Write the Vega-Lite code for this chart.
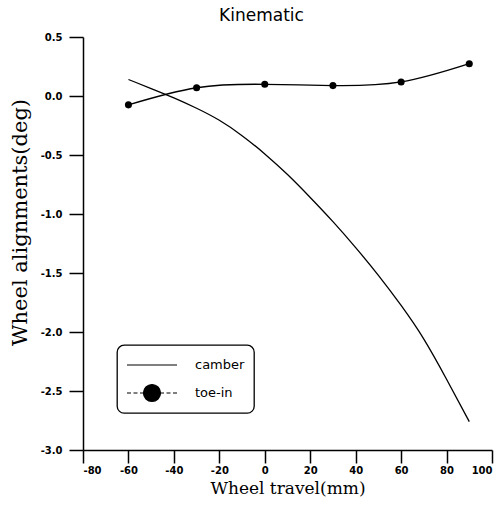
{
  "$schema": "https://vega.github.io/schema/vega-lite/v6.json",
  "width": 409,
  "height": 413,
  "autosize": "none",
  "padding": {"left": 83, "top": 37, "right": 9, "bottom": 62},
  "background": "white",
  "title": {
    "text": "Kinematic",
    "font": "DejaVu Sans",
    "fontSize": 17,
    "fontWeight": "normal",
    "color": "black",
    "frame": "group",
    "offset": 7,
    "dx": -26
  },
  "config": {
    "view": {"stroke": null},
    "axis": {
      "grid": false,
      "domainColor": "black",
      "domainWidth": 1.5,
      "tickColor": "black",
      "tickWidth": 1.5,
      "labelFont": "DejaVu Sans",
      "labelFontWeight": "bold",
      "labelFontSize": 10,
      "labelColor": "black",
      "titleFont": "DejaVu Serif",
      "titleFontWeight": "normal",
      "titleColor": "black"
    }
  },
  "data": {
    "values": [
      {"series": "camber", "x": -60, "y": 0.14},
      {"series": "camber", "x": -50, "y": 0.063},
      {"series": "camber", "x": -40, "y": -0.016},
      {"series": "camber", "x": -30, "y": -0.104},
      {"series": "camber", "x": -20, "y": -0.206},
      {"series": "camber", "x": -10, "y": -0.336},
      {"series": "camber", "x": 0, "y": -0.491},
      {"series": "camber", "x": 10, "y": -0.666},
      {"series": "camber", "x": 20, "y": -0.86},
      {"series": "camber", "x": 30, "y": -1.065},
      {"series": "camber", "x": 40, "y": -1.285},
      {"series": "camber", "x": 50, "y": -1.52},
      {"series": "camber", "x": 60, "y": -1.775},
      {"series": "camber", "x": 70, "y": -2.06},
      {"series": "camber", "x": 80, "y": -2.40},
      {"series": "camber", "x": 90, "y": -2.76},
      {"series": "toe-in", "x": -60, "y": -0.075},
      {"series": "toe-in", "x": -30, "y": 0.07},
      {"series": "toe-in", "x": 0, "y": 0.099},
      {"series": "toe-in", "x": 30, "y": 0.088},
      {"series": "toe-in", "x": 60, "y": 0.119},
      {"series": "toe-in", "x": 90, "y": 0.274}
    ]
  },
  "encoding": {
    "x": {
      "field": "x",
      "type": "quantitative",
      "scale": {"domain": [-80, 100], "nice": false, "zero": false},
      "axis": {
        "title": "Wheel travel(mm)",
        "titleFontSize": 17,
        "titleY": 43,
        "titleBaseline": "alphabetic",
        "values": [-80, -60, -40, -20, 0, 20, 40, 60, 80, 100],
        "tickSize": 13,
        "labelPadding": 2,
        "labelExpr": "replace(format(datum.value, 'd'), '\u2212', '-')"
      }
    },
    "y": {
      "field": "y",
      "type": "quantitative",
      "scale": {"domain": [-3, 0.5], "nice": false, "zero": false},
      "axis": {
        "title": "Wheel alignments(deg)",
        "titleFontSize": 21,
        "titleX": -63,
        "titleY": 185,
        "titleAngle": -90,
        "titleAlign": "center",
        "titleBaseline": "middle",
        "values": [-3, -2.5, -2, -1.5, -1, -0.5, 0, 0.5],
        "tickSize": 14,
        "labelPadding": 7,
        "labelExpr": "replace(format(datum.value, '.1f'), '\u2212', '-')"
      }
    }
  },
  "layer": [
    {
      "mark": {"type": "line", "interpolate": "natural", "strokeWidth": 1.3},
      "encoding": {
        "color": {
          "field": "series",
          "type": "nominal",
          "scale": {"domain": ["camber", "toe-in"], "range": ["black", "black"]},
          "legend": {
            "title": null,
            "orient": "none",
            "legendX": 34,
            "legendY": 308,
            "padding": 9,
            "strokeColor": "black",
            "cornerRadius": 7,
            "fillColor": "white",
            "symbolSize": 400,
            "symbolOffset": 15,
            "labelOffset": 32,
            "rowPadding": 10,
            "labelFont": "DejaVu Sans",
            "labelFontSize": 13,
            "labelColor": "black",
            "encode": {
              "legend": {
                "update": {
                  "strokeWidth": {"value": 1.3}
                }
              },
              "symbols": {
                "update": {
                  "shape": {"signal": "datum.value === 'toe-in' ? 'M-2.5,0H-2.1M-1.85,0H-1.45M-1.2,0H-0.85M0.85,0H1.2M1.45,0H1.85M2.1,0H2.5M-0.85,0A0.85,0.85,0,1,1,0.85,0A0.85,0.85,0,1,1,-0.85,0Z' : 'M-2.5,0H2.5'"},
                  "fill": {"value": "black"},
                  "stroke": {"value": "black"},
                  "strokeWidth": {"value": 1.2},
                  "opacity": {"value": 1}
                }
              }
            }
          }
        }
      }
    },
    {
      "transform": [{"filter": "datum.series === 'toe-in'"}],
      "mark": {"type": "point", "filled": true, "shape": "circle", "size": 50, "color": "black", "opacity": 1}
    }
  ]
}
